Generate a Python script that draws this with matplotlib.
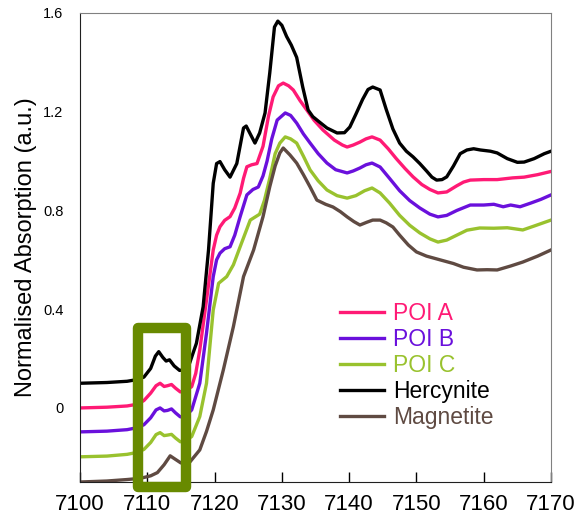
import matplotlib
matplotlib.use("Agg")
import matplotlib.pyplot as plt
from matplotlib.patches import Rectangle

plt.rcParams['font.family'] = ['Liberation Sans', 'DejaVu Sans']

# Hercynite
e_herc = [7100, 7104, 7107, 7108.5, 7109.5, 7110.5, 7111.2, 7111.7, 7112.3, 7112.8, 7113.3,
          7114.0, 7114.8, 7115.5, 7116.3, 7117.3, 7118.3, 7119.1, 7119.8, 7120.3,
          7120.8, 7121.5, 7122.3, 7123.3, 7124.3, 7124.7, 7125.3, 7126.0, 7126.7, 7127.5,
          7128.2, 7128.9, 7129.4, 7130.0, 7130.7, 7131.4, 7132.2, 7133.1, 7133.9, 7134.6,
          7135.5, 7136.7, 7138.2, 7139.3, 7140.1, 7141.0, 7142.0, 7142.8, 7143.5, 7144.6,
          7145.5, 7146.5, 7147.5, 7148.5, 7149.5, 7150.5, 7151.5, 7152.3, 7153.0, 7153.8,
          7154.5, 7155.5, 7156.5, 7157.5, 7158.5, 7159.5, 7161.0, 7162.0, 7163.5, 7165.0,
          7166.0, 7167.5, 7169.0, 7170]
a_herc = [0.100, 0.103, 0.108, 0.115, 0.125, 0.160, 0.210, 0.228, 0.205, 0.190, 0.195,
          0.170, 0.152, 0.155, 0.182, 0.262, 0.410, 0.640, 0.910, 0.990,
          0.998, 0.965, 0.935, 0.990, 1.134, 1.142, 1.110, 1.073, 1.114, 1.195,
          1.357, 1.543, 1.567, 1.550, 1.505, 1.470, 1.420, 1.300, 1.207, 1.180,
          1.160, 1.134, 1.114, 1.115, 1.138, 1.190, 1.250, 1.290, 1.300, 1.288,
          1.210, 1.130, 1.073, 1.040, 1.017, 0.990, 0.960, 0.935, 0.923, 0.925,
          0.936, 0.980, 1.030, 1.045, 1.050, 1.045, 1.040, 1.033, 1.010, 0.995,
          0.996, 1.010, 1.030, 1.040]

# POI A
e_a = [7100, 7104, 7107, 7108.5, 7109.5, 7110.5, 7111.3, 7111.9, 7112.5, 7113.0, 7113.6,
       7114.2, 7114.9, 7115.6, 7116.6, 7117.2, 7117.8, 7118.8, 7119.8, 7120.3, 7120.8,
       7121.5, 7122.3, 7123.0, 7123.8, 7124.3, 7124.8, 7125.5, 7126.3, 7127.2, 7128.0,
       7128.7, 7129.5, 7130.2, 7131.0, 7131.7, 7132.7, 7133.7, 7134.8, 7136.1, 7137.8,
       7139.0, 7139.7, 7140.6, 7141.6, 7142.5, 7143.4, 7144.6, 7145.8, 7147.0, 7148.3,
       7149.5, 7150.8, 7152.0, 7153.2, 7154.5, 7156.0, 7157.0, 7158.0, 7160.0, 7162.0,
       7164.3, 7166.0, 7168.0, 7170]
a_a = [0.000, 0.003, 0.008, 0.015, 0.030, 0.060, 0.090, 0.100, 0.087, 0.090, 0.095,
       0.080, 0.065, 0.070, 0.086, 0.140, 0.235, 0.437, 0.640, 0.700, 0.734,
       0.760, 0.775, 0.810, 0.870, 0.930, 0.977, 0.985, 0.990, 1.060, 1.180,
       1.260, 1.305, 1.316, 1.305, 1.288, 1.245, 1.207, 1.165, 1.126, 1.085,
       1.065, 1.057, 1.065, 1.077, 1.090, 1.098, 1.085, 1.050, 1.010, 0.970,
       0.936, 0.905, 0.885, 0.871, 0.875, 0.900, 0.915, 0.923, 0.925, 0.925,
       0.932, 0.935, 0.945, 0.958]

# POI B
e_b = [7100, 7104, 7107, 7108.5, 7109.5, 7110.5, 7111.3, 7111.9, 7112.5, 7113.0, 7113.6,
       7114.2, 7114.9, 7115.6, 7116.6, 7117.8, 7118.8, 7119.8, 7120.3, 7120.8, 7121.5,
       7122.3, 7123.0, 7123.8, 7124.8, 7125.7, 7126.5, 7127.2, 7127.8, 7128.5, 7129.3,
       7130.5, 7131.3, 7132.2, 7133.2, 7134.2, 7135.4, 7136.7, 7138.0, 7139.7, 7140.6,
       7141.6, 7142.5, 7143.4, 7144.6, 7146.0, 7147.5, 7149.0, 7150.5, 7152.0, 7153.2,
       7154.5, 7156.0, 7158.0, 7160.0, 7161.5, 7162.9, 7164.0, 7165.4, 7167.0, 7168.5,
       7170]
a_b = [-0.097, -0.094, -0.088, -0.080, -0.068, -0.040, -0.008, 0.000, -0.012, -0.010, -0.004,
       -0.020, -0.036, -0.035, -0.008, 0.100, 0.303, 0.532, 0.600, 0.627, 0.645,
       0.653, 0.700, 0.775, 0.863, 0.885, 0.895, 0.940, 1.000, 1.090, 1.166,
       1.195, 1.185, 1.154, 1.110, 1.073, 1.030, 0.992, 0.965, 0.952, 0.960,
       0.972, 0.985, 0.992, 0.976, 0.930, 0.880, 0.840, 0.810, 0.785, 0.774,
       0.780, 0.800, 0.822, 0.822, 0.825, 0.815, 0.822, 0.815, 0.830, 0.845,
       0.863]

# POI C
e_c = [7100, 7104, 7107, 7108.5, 7109.5, 7110.5, 7111.3, 7111.9, 7112.5, 7113.0, 7113.6,
       7114.2, 7114.9, 7115.8, 7116.6, 7117.8, 7118.8, 7119.3, 7119.8, 7120.6, 7121.8,
       7122.8, 7123.8, 7125.3, 7126.7, 7127.4, 7128.2, 7129.0, 7129.7,
       7130.5, 7131.3, 7132.2, 7133.2, 7134.2, 7135.4, 7136.7, 7138.2, 7139.7, 7141.0,
       7142.3, 7143.4, 7144.6, 7146.0, 7147.5, 7149.0, 7150.5, 7152.0, 7153.2, 7154.5,
       7156.0, 7157.5, 7159.4, 7161.5, 7163.5, 7165.8, 7167.5, 7170]
a_c = [-0.198, -0.195, -0.188, -0.180, -0.168, -0.140, -0.108, -0.100, -0.112, -0.110, -0.107,
       -0.122, -0.137, -0.130, -0.116, -0.035, 0.100, 0.250, 0.397, 0.505, 0.532,
       0.580, 0.653, 0.761, 0.785, 0.840, 0.930, 1.030, 1.073,
       1.098, 1.090, 1.073, 1.020, 0.964, 0.920, 0.883, 0.860, 0.850, 0.860,
       0.880, 0.891, 0.871, 0.830, 0.780, 0.740, 0.709, 0.685, 0.672, 0.680,
       0.700, 0.720, 0.729, 0.728, 0.730, 0.721, 0.737, 0.761]

# Magnetite
e_mag = [7100, 7104, 7107, 7109, 7110.5, 7111.5, 7112.5, 7113.4, 7114.0, 7115.0, 7116.3,
         7117.8, 7118.8, 7119.8, 7121.3, 7122.8, 7124.3, 7125.8, 7127.2,
         7128.2, 7129.0, 7129.7, 7130.2, 7131.2, 7132.2, 7133.2, 7134.2, 7135.2, 7136.5,
         7137.6, 7138.7, 7139.7, 7140.7, 7141.6, 7142.6, 7143.5, 7144.6, 7145.5, 7146.5,
         7147.5, 7148.8, 7150.0, 7151.5, 7153.5, 7155.5, 7157.0, 7159.0, 7160.5, 7162.0,
         7164.0, 7165.8, 7168.0, 7170]
a_mag = [-0.300, -0.296, -0.290, -0.285, -0.275, -0.262, -0.230, -0.194, -0.205, -0.223, -0.220,
         -0.170, -0.095, -0.008, 0.154, 0.330, 0.532, 0.640, 0.775,
         0.896, 0.980, 1.033, 1.053, 1.025, 0.992, 0.945, 0.895, 0.842, 0.825,
         0.814, 0.795, 0.774, 0.755, 0.741, 0.752, 0.761, 0.761, 0.750, 0.733,
         0.700, 0.660, 0.632, 0.615, 0.600, 0.585, 0.570, 0.559, 0.560, 0.559,
         0.575, 0.591, 0.615, 0.640]

labels = ['POI A', 'POI B', 'POI C', 'Hercynite', 'Magnetite']
colors = ['#ff1a75', '#6a10dc', '#99c22e', '#000000', '#5f4a42']
series = [(e_a, a_a), (e_b, a_b), (e_c, a_c), (e_herc, a_herc), (e_mag, a_mag)]

x_ticks = [7100, 7110, 7120, 7130, 7140, 7150, 7160, 7170]
y_ticks = [0, 0.4, 0.8, 1.2, 1.6]
y_tick_labels = ['0', '0.4', '0.8', '1.2', '1.6']

fig = plt.figure(figsize=(5.81, 5.17), dpi=100)
ax = fig.add_axes([0.1377, 0.0677, 0.8107, 0.9072])

for (e, a), lab, col in zip(series, labels, colors):
    ax.plot(e, a, color=col, lw=2.4, label=lab, solid_joinstyle='round')

ax.set_xlim(7100, 7170)
ax.set_ylim(-0.3, 1.6)
ax.set_xticks(x_ticks)
ax.set_xticklabels([str(t) for t in x_ticks], fontsize=16)
ax.set_yticks(y_ticks)
ax.set_yticklabels(y_tick_labels, fontsize=10.5)
ax.tick_params(axis='x', direction='in', length=7, width=1, pad=9)
ax.tick_params(axis='y', length=0, pad=12)
ax.set_ylabel('Normalised Absorption (a.u.)', fontsize=17, labelpad=4)

for side in ['top', 'right']:
    ax.spines[side].set_color('#808080')
for side in ['left', 'bottom']:
    ax.spines[side].set_color('#202020')

# highlight box around the pre-edge region
box = Rectangle((7108.6, -0.32), 7.15, 0.645, fill=False, edgecolor='#688a00',
                lw=7.5, joinstyle='round', clip_on=False, zorder=5)
ax.add_patch(box)

ax.legend(loc='center left', bbox_to_anchor=(0.552, 0.249), frameon=False,
          fontsize=16.5, labelcolor='linecolor', handlelength=1.9, handletextpad=0.4,
          labelspacing=0.13, borderpad=0, borderaxespad=0)

fig.savefig('out.png', dpi=100)
